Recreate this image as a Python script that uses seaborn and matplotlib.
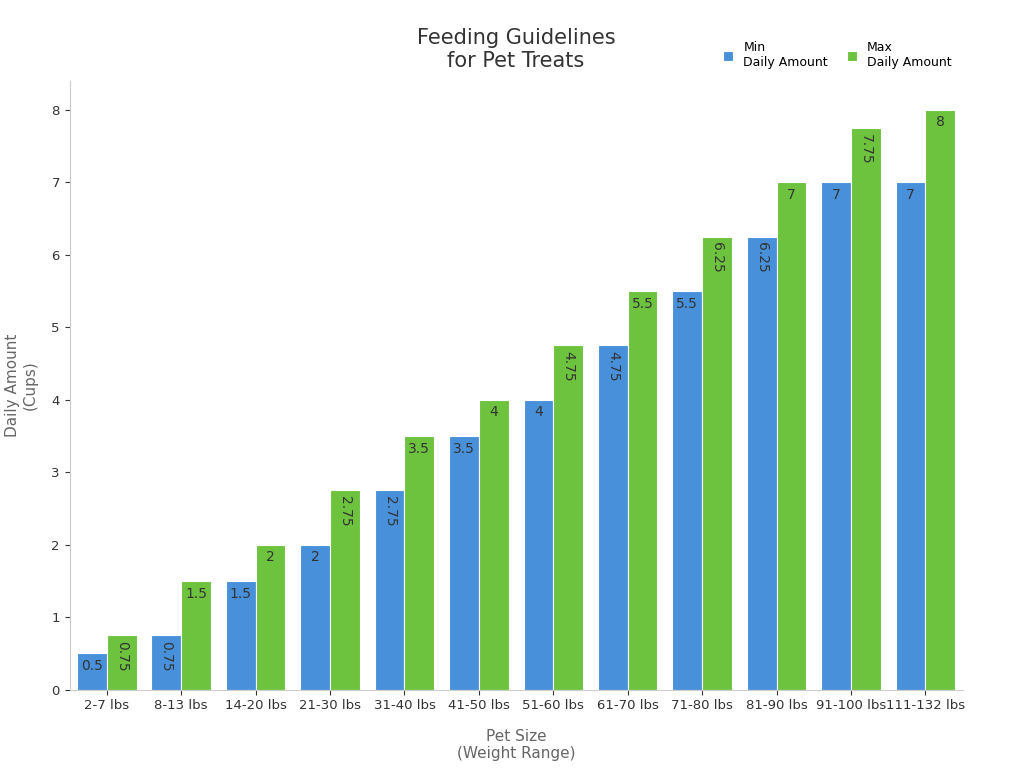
import pandas as pd
import matplotlib.pyplot as plt
import seaborn as sns

# data
sizes = ["2-7 lbs", "8-13 lbs", "14-20 lbs", "21-30 lbs", "31-40 lbs", "41-50 lbs",
         "51-60 lbs", "61-70 lbs", "71-80 lbs", "81-90 lbs", "91-100 lbs", "111-132 lbs"]
min_amount = [0.5, 0.75, 1.5, 2, 2.75, 3.5, 4, 4.75, 5.5, 6.25, 7, 7]
max_amount = [0.75, 1.5, 2, 2.75, 3.5, 4, 4.75, 5.5, 6.25, 7, 7.75, 8]
series_names = ["Min\nDaily Amount", "Max\nDaily Amount"]

df = pd.DataFrame({"size": sizes, series_names[0]: min_amount, series_names[1]: max_amount})
df = df.melt(id_vars="size", var_name="series", value_name="amount")

fig, ax = plt.subplots(figsize=(10.24, 7.68), dpi=100)
fig.subplots_adjust(left=0.068, right=0.94, top=0.895, bottom=0.102)

sns.barplot(data=df, x="size", y="amount", hue="series",
            palette=["#3091F2", "#67D928"], width=0.8,
            edgecolor="white", linewidth=0.8, ax=ax)

# value labels inside the top of each bar
for cont in ax.containers:
    for bar in cont:
        v = bar.get_height()
        txt = f"{v:g}"
        rot = 270 if len(txt) >= 4 else 0
        ax.text(bar.get_x() + bar.get_width() / 2, v - 0.08, txt,
                ha="center", va="top", rotation=rot, fontsize=10, color="#333333")

ax.set_title("Feeding Guidelines\nfor Pet Treats", fontsize=15, color="#333333", pad=10)
ax.set_xlabel("Pet Size\n(Weight Range)", fontsize=11, color="#666666", labelpad=12)
ax.set_ylabel("Daily Amount\n(Cups)", fontsize=11, color="#666666", labelpad=10)
ax.set_ylim(0, 8.4)
ax.set_xlim(-0.5, 11.5)
ax.tick_params(labelsize=9.5, colors="#333333")
sns.despine(ax=ax)
for s in ["left", "bottom"]:
    ax.spines[s].set_color("#cccccc")

ax.legend(loc="lower right", bbox_to_anchor=(1.0, 1.0), ncol=2, frameon=False,
          fontsize=9, handlelength=0.8, handleheight=0.8, columnspacing=1.5)

plt.savefig("out.png", dpi=100)
